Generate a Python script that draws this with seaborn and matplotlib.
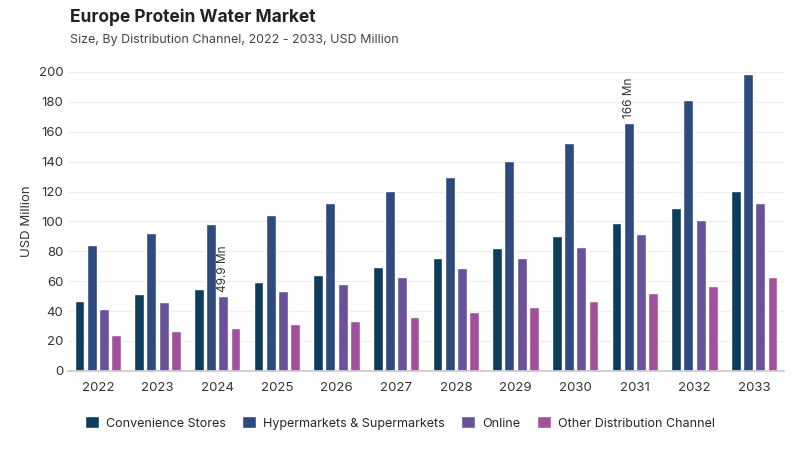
import matplotlib
matplotlib.use("Agg")
import matplotlib.pyplot as plt
import seaborn as sns
import pandas as pd

years = ["2022","2023","2024","2025","2026","2027","2028","2029","2030","2031","2032","2033"]
convenience = [46.5,51.5,55,59.5,64,69.5,75.5,82.5,90.5,99,109,120.5]
hyper = [84.5,92.5,98.5,104.5,112,120.5,130,140.5,152.5,166,181.5,198.5]
online = [41.5,46,49.9,53.5,58,63,69,75.5,83,91.5,101,112]
other = [24,26.5,28.5,31,33.5,36,39.5,43,47,52,57,63]
series = ["Convenience Stores","Hypermarkets & Supermarkets","Online","Other Distribution Channel"]
colors = ["#0d3d5a","#2f4a7e","#6a529b","#a2509b"]

df = pd.DataFrame({"Year": years*4,
                   "Channel": sum([[s]*len(years) for s in series], []),
                   "Value": convenience+hyper+online+other})

sns.set_theme(style="white")
plt.rcParams['font.family'] = ['Inter', 'DejaVu Sans']
fig = plt.figure(figsize=(8,4.5), dpi=100)
ax = fig.add_axes([0.085,0.176,0.895,0.664])
sns.barplot(data=df, x="Year", y="Value", hue="Channel", palette=colors,
            width=0.82, gap=0.2, saturation=1, ax=ax, legend=False)
ax.set_ylim(0,200)
ax.set_yticks(range(0,201,20))
ax.yaxis.grid(True, color="#eeeeee", lw=0.8)
ax.set_axisbelow(True)
for s in ["top","right","left"]:
    ax.spines[s].set_visible(False)
ax.spines["bottom"].set_color("#cccccc")
ax.tick_params(axis="both", labelsize=9.5, colors="#333333", length=0)
ax.tick_params(axis="x", pad=8)
ax.set_xlabel("")
ax.set_ylabel("USD Million", fontsize=9.5, color="#333333")

containers = ax.containers
b = containers[2][2]
ax.text(b.get_x()+b.get_width()/2, b.get_height()+3, "49.9 Mn", rotation=90,
        ha="center", va="bottom", fontsize=8.5, color="#333333")
b = containers[1][9]
ax.text(b.get_x()+b.get_width()/2, b.get_height()+3, "166 Mn", rotation=90,
        ha="center", va="bottom", fontsize=8.5, color="#333333")

fig.text(0.088, 0.95, "Europe Protein Water Market", fontsize=12.5, weight="bold", color="#222222")
fig.text(0.088, 0.905, "Size, By Distribution Channel, 2022 - 2033, USD Million", fontsize=9, color="#444444")

from matplotlib.patches import Patch
handles = [Patch(facecolor=c, label=s) for c, s in zip(colors, series)]
fig.legend(handles=handles, loc="center", bbox_to_anchor=(0.5, 0.06), ncol=4,
           frameon=False, fontsize=9, handlelength=1.1, handleheight=1.1,
           handletextpad=0.6, columnspacing=1.3)
fig.savefig("out.png", dpi=100)
